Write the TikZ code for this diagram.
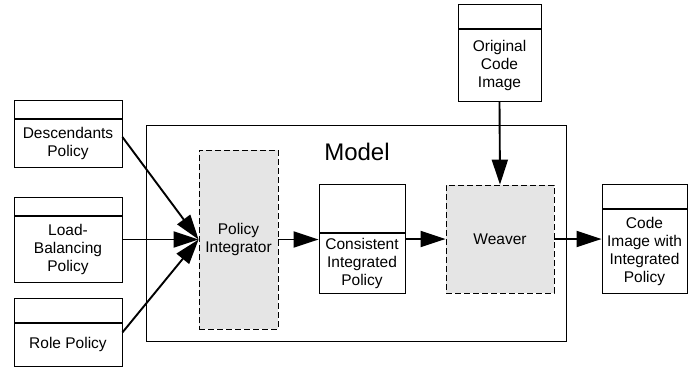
\documentclass[tikz,border=0pt]{standalone}
\usepackage{fontspec}
\setmainfont{Liberation Sans}
\usetikzlibrary{arrows.meta}
\definecolor{procgray}{RGB}{229,229,229}
\begin{document}
\begin{tikzpicture}[x=1pt,y=-1pt,
  lbl/.style={font=\fontsize{15.5}{18}\selectfont, align=center},
  box/.style={draw, line width=0.8pt, inner sep=0pt, lbl},
  hdr/.style={draw, line width=0.8pt, inner sep=0pt, anchor=south},
  proc/.style={draw, dash pattern=on 6pt off 3pt, fill=procgray, line width=0.8pt, inner sep=0pt, lbl},
  flow/.style={-{Triangle[length=25pt,width=16pt]}, line width=1.9pt}
]
\useasboundingbox (0,0) rectangle (699,367);

% enclosing model frame
\node[draw, line width=0.8pt, minimum width=420pt, minimum height=216pt, inner sep=0pt] (model) at (356,233) {};
\node[font=\fontsize{24}{28}\selectfont] (modellbl) at (357,152) {Model};

% input policies
\node[box, minimum width=108pt, minimum height=48pt] (dB) at (68,143) {Descendants\\Policy};
\node[hdr, minimum width=108pt, minimum height=17.5pt] (dH) at (dB.north) {};
\node[box, minimum width=108pt, minimum height=66pt] (lB) at (68,249) {Load-\\Balancing\\Policy};
\node[hdr, minimum width=108pt, minimum height=18pt] (lH) at (lB.north) {};
\node[box, minimum width=108pt, minimum height=43pt] (rB) at (68,344.5) {Role Policy};
\node[hdr, minimum width=108pt, minimum height=23.5pt] (rH) at (rB.north) {};

% processing steps
\node[proc, minimum width=79pt, minimum height=179pt] (pi) at (238.5,239.5) {Policy\\Integrator};
\node[proc, minimum width=108pt, minimum height=108pt] (wv) at (500,239) {Weaver};

% intermediate and external artefacts
\node[box, minimum width=86pt, minimum height=60pt] (cB) at (362,263) {Consistent\\Integrated\\Policy};
\node[hdr, minimum width=86pt, minimum height=47.5pt] (cH) at (cB.north) {};
\node[box, minimum width=83pt, minimum height=72pt] (ocB) at (499.5,65) {Original\\Code\\Image};
\node[hdr, minimum width=83pt, minimum height=24pt] (ocH) at (ocB.north) {};
\node[box, minimum width=85pt, minimum height=84pt] (oB) at (644.5,251) {Code\\Image with\\Integrated\\Policy};
\node[hdr, minimum width=85pt, minimum height=23.5pt] (oH) at (oB.north) {};

% flows
\draw[flow] ([yshift=6pt]dB.east) -- (pi.west);
\draw[flow] (lB.east |- pi.west) -- (pi.west);
\draw[flow] ([yshift=12pt]rB.east) -- (pi.west);
\draw[flow] (pi.east) -- (pi.east -| cB.west);
\draw[flow] (cB.east |- wv.west) -- (wv.west);
\draw[flow] (ocB.south) -- (wv.north);
\draw[flow] (wv.east) -- (wv.east -| oB.west);
\end{tikzpicture}
\end{document}
